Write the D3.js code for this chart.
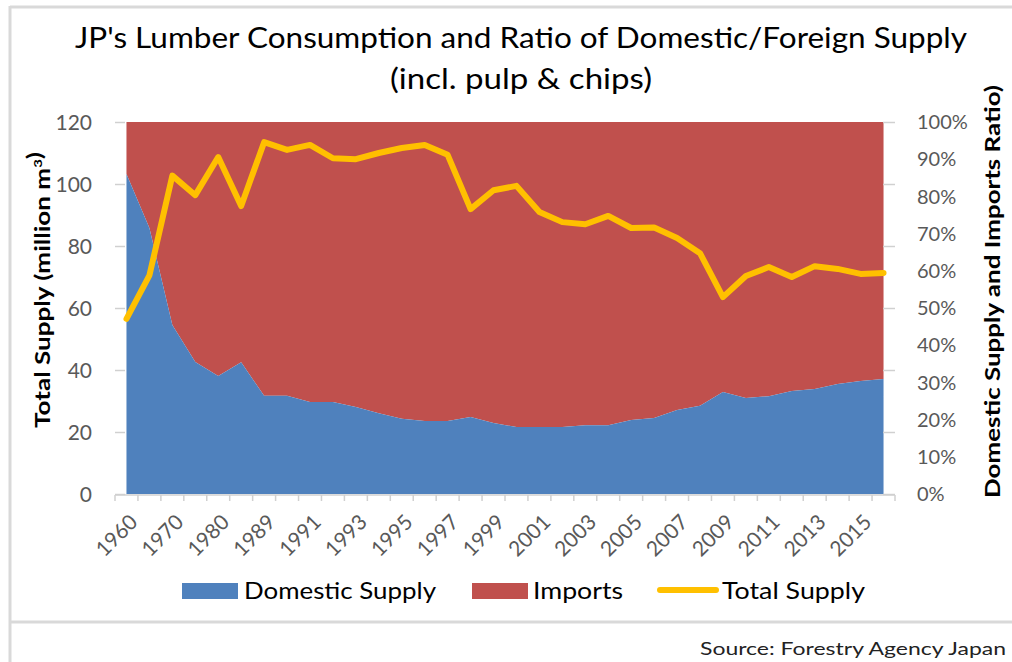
<!DOCTYPE html>
<html><head><meta charset="utf-8">
<script src="https://cdn.jsdelivr.net/npm/d3@7"></script>
<style>
html,body{margin:0;padding:0;background:#fff;}
svg text{font-family:"Lato","Open Sans",sans-serif;}
</style></head>
<body>
<svg id="c" width="1012" height="662"></svg>
<script>
const categories = ["1960","1965","1970","1975","1980","1985","1989","1990","1991","1992","1993","1994","1995","1996","1997","1998","1999","2000","2001","2002","2003","2004","2005","2006","2007","2008","2009","2010","2011","2012","2013","2014","2015","2016"];
const totalSupply = [56.5,70.5,102.7,96.4,108.7,92.9,113.5,111.0,112.6,108.3,108.0,110.0,111.6,112.6,109.4,91.9,98.0,99.4,91.0,87.7,87.0,89.7,85.8,86.0,82.6,77.7,63.5,70.3,73.2,70.0,73.5,72.6,71.0,71.3];
const domesticPct = [86.0,71.5,45.4,35.5,31.7,35.4,26.4,26.4,24.7,24.7,23.4,21.7,20.2,19.6,19.6,20.7,19.1,18.0,18.0,18.0,18.5,18.5,19.9,20.4,22.6,23.7,27.4,25.8,26.3,27.7,28.2,29.6,30.4,30.9];
const importsPct = domesticPct.map(d => 100 - d);
const leftTicks = [0,20,40,60,80,100,120];
const rightTicks = [0,10,20,30,40,50,60,70,80,90,100];
const titleLines = ["JP's Lumber Consumption and Ratio of Domestic/Foreign Supply","(incl. pulp & chips)"];

const svg = d3.select("#c");
const L = 115, R = 895, T = 122, B = 494;
const x = d3.scalePoint().domain(categories).range([L, R]).padding(0.5);
const band = d3.scaleBand().domain(categories).range([L, R]);
const yL = d3.scaleLinear().domain([0,120]).range([B, T]);
const yR = d3.scaleLinear().domain([0,100]).range([B, T]);

// frame
svg.append("line").attr("x1",10).attr("x2",1012).attr("y1",7).attr("y2",7).attr("stroke","#d9d9d9").attr("stroke-width",3);
svg.append("line").attr("x1",10).attr("x2",10).attr("y1",6).attr("y2",662).attr("stroke","#d9d9d9").attr("stroke-width",3);
svg.append("line").attr("x1",10).attr("x2",1012).attr("y1",622).attr("y2",622).attr("stroke","#d9d9d9").attr("stroke-width",3);

// title
svg.selectAll("text.title").data(titleLines).enter().append("text")
  .attr("class","title").attr("x",521).attr("y",(d,i)=> i===0?48:89)
  .attr("text-anchor","middle").attr("font-size",29).attr("fill","#000")
  .attr("textLength",(d,i)=> i===0?892:262).attr("lengthAdjust","spacingAndGlyphs")
  .text(d=>d);

// areas
const idx = d3.range(categories.length);
svg.append("path").datum(idx)
  .attr("fill","#C0504D")
  .attr("d", d3.area().x(i=>x(categories[i])).y0(i=>yR(domesticPct[i])).y1(i=>yR(domesticPct[i]+importsPct[i])));
svg.append("path").datum(idx)
  .attr("fill","#4F81BD")
  .attr("d", d3.area().x(i=>x(categories[i])).y0(yR(0)).y1(i=>yR(domesticPct[i])));

// line
svg.append("path").datum(idx)
  .attr("fill","none").attr("stroke","#FFC000").attr("stroke-width",6).attr("stroke-linejoin","round").attr("stroke-linecap","round")
  .attr("d", d3.line().x(i=>x(categories[i])).y(i=>yL(totalSupply[i])));

// x axis
const tickColor = "#d0d0d0";
svg.append("line").attr("x1",L).attr("x2",R).attr("y1",B+1).attr("y2",B+1).attr("stroke",tickColor).attr("stroke-width",1.5);
const bounds = categories.map(c=>band(c)).concat([R]);
svg.selectAll("line.xt").data(bounds).enter().append("line").attr("class","xt")
  .attr("x1",d=>d).attr("x2",d=>d).attr("y1",B+1).attr("y2",B+7).attr("stroke",tickColor).attr("stroke-width",1.5);
svg.selectAll("text.xl").data(categories.filter((c,i)=>i%2===0)).enter().append("text").attr("class","xl")
  .attr("transform",d=>`translate(${x(d)+2},${B+19}) rotate(-45)`)
  .attr("text-anchor","end").attr("dy","0.7em").attr("font-size",21).attr("fill","#595959").text(d=>d);

// left axis
svg.selectAll("line.yt").data(leftTicks).enter().append("line").attr("class","yt")
  .attr("x1",L).attr("x2",L+10).attr("y1",d=>yL(d)+0.5).attr("y2",d=>yL(d)+0.5).attr("stroke",tickColor).attr("stroke-width",1.5);
svg.selectAll("text.yl").data(leftTicks).enter().append("text").attr("class","yl")
  .attr("x",92).attr("y",d=>yL(d)).attr("dy","0.36em").attr("text-anchor","end")
  .attr("font-size",21).attr("fill","#595959").text(d=>d);

// right axis
svg.selectAll("line.rt").data(leftTicks).enter().append("line").attr("class","rt")
  .attr("x1",R-12).attr("x2",R).attr("y1",d=>yL(d)+0.5).attr("y2",d=>yL(d)+0.5).attr("stroke",tickColor).attr("stroke-width",1.5);
svg.selectAll("text.rl").data(rightTicks).enter().append("text").attr("class","rl")
  .attr("x",917).attr("y",d=>yR(d)).attr("dy","0.36em").attr("text-anchor","start")
  .attr("font-size",20).attr("fill","#595959").text(d=>d+"%");

// axis titles
svg.append("text").attr("transform","translate(50,290) rotate(-90)").attr("text-anchor","middle")
  .attr("font-size",21).attr("font-weight","bold").attr("fill","#000")
  .attr("textLength",276).attr("lengthAdjust","spacingAndGlyphs")
  .html("Total Supply (million m<tspan dy='-8' font-size='12'>3</tspan>)");
svg.append("text").attr("transform","translate(1000,291.5) rotate(-90)").attr("text-anchor","middle")
  .attr("font-size",21).attr("font-weight","bold").attr("fill","#000")
  .attr("textLength",413).attr("lengthAdjust","spacingAndGlyphs")
  .text("Domestic Supply and Imports Ratio)");

// legend
const legendItems = [
  {name:"Domestic Supply", color:"#4F81BD", type:"rect", x:182, tx:244, tw:192},
  {name:"Imports", color:"#C0504D", type:"rect", x:472, tx:533, tw:90},
  {name:"Total Supply", color:"#FFC000", type:"line", x:658, tx:722, tw:143}
];
const lg = svg.selectAll("g.lg").data(legendItems).enter().append("g").attr("class","lg");
lg.filter(d=>d.type==="rect").append("rect").attr("x",d=>d.x).attr("y",583).attr("width",56).attr("height",16).attr("fill",d=>d.color);
lg.filter(d=>d.type==="line").append("line").attr("x1",d=>d.x+2).attr("x2",d=>d.x+58).attr("y1",590).attr("y2",590)
  .attr("stroke",d=>d.color).attr("stroke-width",6).attr("stroke-linecap","round");
lg.append("text").attr("x",d=>d.tx).attr("y",599).attr("font-size",24).attr("fill","#000")
  .attr("textLength",d=>d.tw).attr("lengthAdjust","spacingAndGlyphs").text(d=>d.name);

// source
svg.append("text").attr("x",1006).attr("y",655).attr("text-anchor","end").attr("font-size",17).attr("fill","#222")
  .attr("textLength",306).attr("lengthAdjust","spacingAndGlyphs").text("Source: Forestry Agency Japan");
</script>
</body></html>
